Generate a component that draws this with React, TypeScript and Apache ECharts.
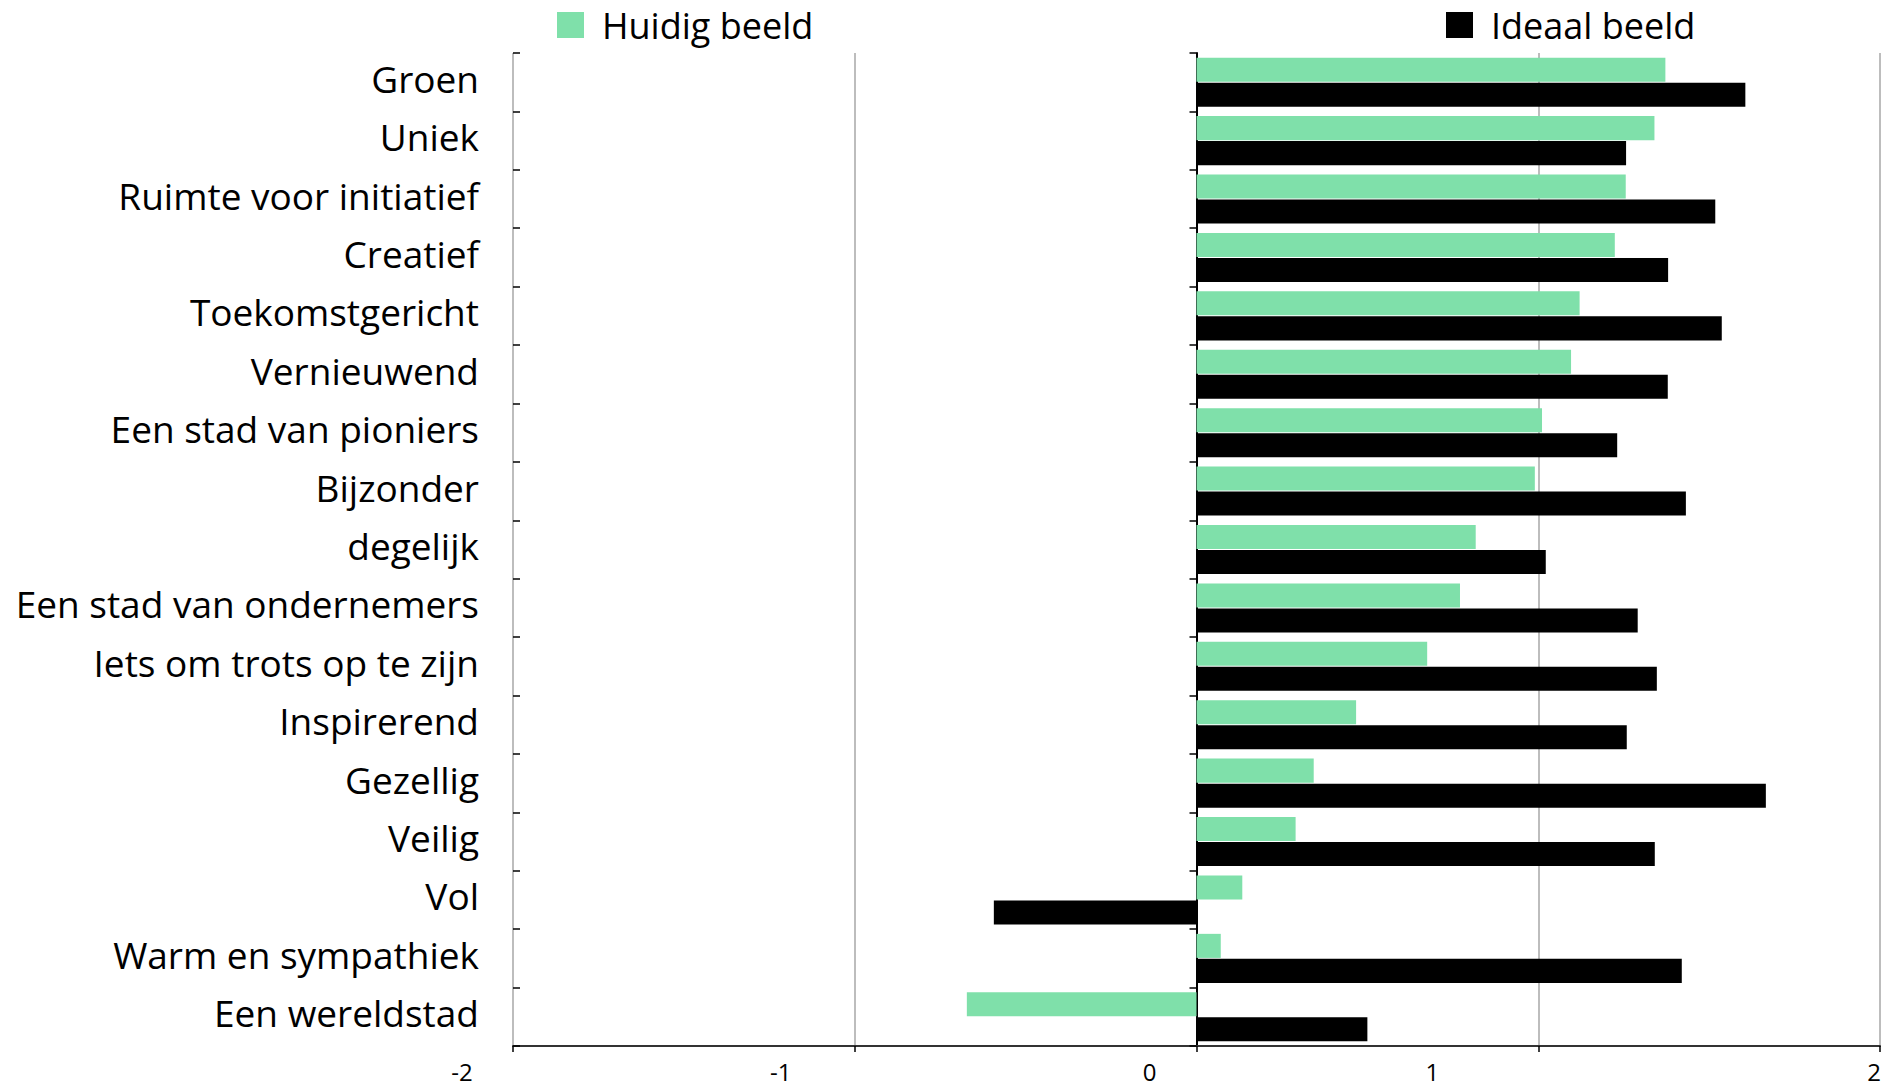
import React, { useEffect, useRef } from "react";
import * as echarts from "echarts";

const categories = [
  "Groen",
  "Uniek",
  "Ruimte voor initiatief",
  "Creatief",
  "Toekomstgericht",
  "Vernieuwend",
  "Een stad van pioniers",
  "Bijzonder",
  "degelijk",
  "Een stad van ondernemers",
  "Iets om trots op te zijn",
  "Inspirerend",
  "Gezellig",
  "Veilig",
  "Vol",
  "Warm en sympathiek",
  "Een wereldstad",
];

const seriesNames = ["Huidig beeld", "Ideaal beeld"];

const huidigBeeld = [
  1.372, 1.34, 1.256, 1.224, 1.121, 1.096, 1.011, 0.99, 0.817, 0.771, 0.675,
  0.467, 0.343, 0.29, 0.134, 0.071, -0.672,
];

const ideaalBeeld = [
  1.606, 1.257, 1.518, 1.38, 1.537, 1.379, 1.231, 1.432, 1.022, 1.291, 1.347,
  1.259, 1.666, 1.341, -0.593, 1.42, 0.5,
];

const xTickValues = [-2, -1, 0, 1, 2];
const xTickLabels = ["-2", "-1", "0", "1", "2"];

// styling: horizontal shift of each x tick label (px, negative = left)
const xLabelShift = [-51, -74, -47, -106, -6];

const FONT = "'Open Sans', sans-serif";
const GREEN = "#7fe0aa";
const BLACK = "#000000";

export default function App() {
  const ref = useRef<HTMLDivElement>(null);

  useEffect(() => {
    document.body.style.margin = "0";
    if (!ref.current) return;
    const chart = echarts.init(ref.current, undefined, { renderer: "svg" });

    const rich: Record<string, any> = {};
    xTickValues.forEach((v, i) => {
      const s = xLabelShift[i];
      rich["s" + i] = {
        fontSize: 24,
        lineHeight: 20,
        fontFamily: FONT,
        color: "#000",
        padding: s < 0 ? [0, -2 * s, 0, 0] : [0, 0, 0, 0],
      };
    });

    const legendText = {
      fontSize: 36,
      fontFamily: FONT,
      color: "#000",
      padding: [0, 0, 0, 13],
    };

    chart.setOption({
      animation: false,
      backgroundColor: "#ffffff",
      legend: [
        {
          data: [seriesNames[0]],
          left: 557,
          top: 7,
          padding: 0,
          icon: "rect",
          itemWidth: 27,
          itemHeight: 26,
          textStyle: legendText,
          selectedMode: false,
        },
        {
          data: [seriesNames[1]],
          left: 1446,
          top: 7,
          padding: 0,
          icon: "rect",
          itemWidth: 27,
          itemHeight: 26,
          textStyle: legendText,
          selectedMode: false,
        },
      ],
      grid: {
        left: 513,
        right: 16,
        top: 53,
        bottom: 43,
        containLabel: false,
      },
      xAxis: {
        type: "value",
        min: -2,
        max: 2,
        interval: 1,
        axisLine: { show: true, onZero: false, lineStyle: { color: "#333", width: 2 } },
        axisTick: { show: true, length: 6, lineStyle: { color: "#000", width: 1.5 } },
        splitLine: { show: true, lineStyle: { color: "#bdbdbd", width: 2 } },
        axisLabel: {
          margin: 15,
          formatter: (v: number) => {
            const i = xTickValues.indexOf(Math.round(v));
            if (i < 0) return "";
            return "{s" + i + "|" + xTickLabels[i] + "}";
          },
          rich,
        },
      },
      yAxis: [
        {
          type: "category",
          data: categories,
          inverse: true,
          position: "left",
          axisLine: { show: true, lineStyle: { color: "#000", width: 2 } },
          axisTick: { show: true, length: 7, lineStyle: { color: "#000", width: 1.5 } },
          axisLabel: {
            margin: 34,
            formatter: (v: string) => "{c|" + v + "}",
            rich: {
              c: {
                fontSize: 37,
                fontFamily: FONT,
                color: "#000",
                padding: [0, 0, 8, 0],
              },
            },
          },
          splitLine: { show: false },
        },
        {
          type: "category",
          data: categories,
          inverse: true,
          position: "left",
          axisLine: { show: false },
          axisTick: { show: true, inside: true, length: 7, lineStyle: { color: "#000", width: 1.5 } },
          axisLabel: { show: false },
          splitLine: { show: false },
        },
      ],
      series: [
        {
          name: seriesNames[0],
          type: "bar",
          yAxisIndex: 0,
          data: huidigBeeld,
          itemStyle: { color: GREEN },
          barGap: "4%",
          barCategoryGap: "16%",
        },
        {
          name: seriesNames[1],
          type: "bar",
          yAxisIndex: 0,
          data: ideaalBeeld,
          itemStyle: { color: BLACK },
          barGap: "4%",
          barCategoryGap: "16%",
        },
      ],
    });

    return () => chart.dispose();
  }, []);

  return <div ref={ref} style={{ width: 1896, height: 1089 }} />;
}
